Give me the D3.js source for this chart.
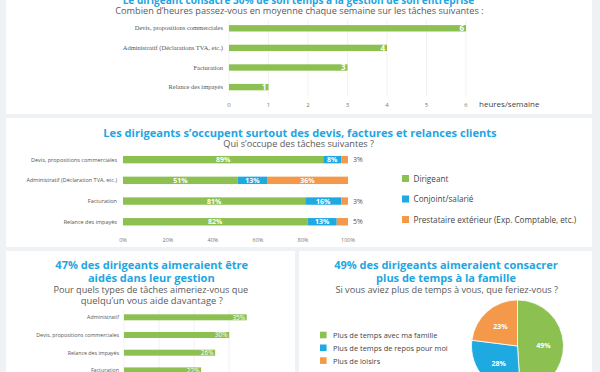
<!DOCTYPE html>
<meta charset="utf-8">
<style>
    body { margin: 0; background: #eef2f5; }
    svg { display: block; font-family: "Open Sans", sans-serif; }
    .title { fill: #1ea6e2; font-weight: bold; text-anchor: middle; }
    .sub { fill: #5a5a5a; text-anchor: middle; }
    .cat { fill: #555; font-size: 6px; text-anchor: end; }
    .tick { fill: #777; font-size: 6px; text-anchor: middle; }
    .val { fill: #fff; font-weight: bold; }
    .grid { stroke: #ececec; stroke-width: 0.7; }
    .leg { fill: #444; }
</style>
<svg width="600" height="372"></svg>
<script src="https://cdn.jsdelivr.net/npm/d3@7"></script>
<script>

    // chart 1 : heures par semaine
    var hoursCats = ["Devis, propositions commerciales", "Administratif (Déclarations TVA, etc.)", "Facturation", "Relance des impayés"];
    var hoursVals = [6, 4, 3, 1];
    var hoursTicks = [0, 1, 2, 3, 4, 5, 6];

    // chart 2 : qui s'occupe des tâches
    var whoCats = ["Devis, propositions commerciales", "Administratif (Déclaration TVA, etc.)", "Facturation", "Relance des impayés"];
    var whoSeries = ["Dirigeant", "Conjoint/salarié", "Prestataire extérieur (Exp. Comptable, etc.)"];
    var whoDirigeant = [89, 51, 81, 82];
    var whoConjoint = [8, 13, 16, 13];
    var whoPresta = [3, 36, 3, 5];
    var whoTicks = [0, 20, 40, 60, 80, 100];

    // chart 3 : aide souhaitée
    var helpCats = ["Administratif", "Devis, propositions commerciales", "Relance des impayés", "Facturation"];
    var helpVals = [35, 30, 26, 22];

    // chart 4 : plus de temps
    var timeCats = ["Plus de temps avec ma famille", "Plus de temps de repos pour moi", "Plus de loisirs"];
    var timeVals = [49, 28, 23];

    var green = "#8cc152", blue = "#1fa9e1", orange = "#f4984a";
    var color = d3.scaleOrdinal([0, 1, 2], [green, blue, orange]);

    var svg = d3.select("svg");

    // panels
    var panels = [[6, -10, 586, 124], [6, 118, 586, 129], [6, 251, 289, 130], [299, 251, 293, 130]];
    svg.selectAll(".panel").data(panels).enter().append("rect")
        .attr("class", "panel")
        .attr("x", function (d) { return d[0]; })
        .attr("y", function (d) { return d[1]; })
        .attr("width", function (d) { return d[2]; })
        .attr("height", function (d) { return d[3]; })
        .attr("fill", "#fff");

    // font size so that str is w pixels wide
    function sizeFor(cls, str, w) {
        var t = svg.append("text").attr("class", cls).style("font-size", "12px").text(str);
        var len = t.node().getComputedTextLength();
        t.remove();
        return 12 * w / len;
    }

    function fitText(cls, str, cx, y, w) {
        return svg.append("text").attr("class", cls).attr("x", cx).attr("y", y)
            .style("font-size", sizeFor(cls, str, w) + "px").text(str);
    }

    // ---------- chart 1
    fitText("title", "Le dirigeant consacre 30% de son temps à la gestion de son entreprise", 298.5, 3.5, 352);
    fitText("sub", "Combien d’heures passez-vous en moyenne chaque semaine sur les tâches suivantes :", 299.5, 14, 369);

    var x1 = d3.scaleLinear().domain([0, 6]).range([229, 466]);
    var y1 = d3.scalePoint().domain(hoursCats).range([18.5, 96.9]).padding(0.5);

    svg.append("g").selectAll("line").data(hoursTicks).enter().append("line")
        .attr("class", "grid")
        .attr("x1", x1).attr("x2", x1)
        .attr("y1", 20).attr("y2", 96);

    svg.append("g").selectAll("text").data(hoursTicks).enter().append("text")
        .attr("class", "tick")
        .attr("x", x1).attr("y", 106.5)
        .text(function (d) { return d; });

    svg.append("text").attr("x", 479).attr("y", 107)
        .style("font-size", "8px").style("fill", "#444")
        .text("heures/semaine");

    var g1 = svg.append("g").selectAll("g").data(hoursCats).enter().append("g");
    g1.append("rect")
        .attr("x", x1(0))
        .attr("y", function (d) { return y1(d) - 3.2; })
        .attr("width", function (d, i) { return x1(hoursVals[i]) - x1(0); })
        .attr("height", 6.4)
        .attr("fill", green);
    g1.append("text")
        .attr("class", "cat")
        .style("font-family", "'Liberation Serif', serif")
        .style("font-size", "6.5px")
        .attr("x", 223).attr("y", function (d) { return y1(d) + 2; })
        .text(function (d) { return d; });
    g1.append("text")
        .attr("class", "val")
        .style("font-size", "8px").style("text-anchor", "end")
        .attr("x", function (d, i) { return x1(hoursVals[i]) - 2; })
        .attr("y", function (d) { return y1(d) + 2.8; })
        .text(function (d, i) { return hoursVals[i]; });

    // ---------- chart 2
    fitText("title", "Les dirigeants s’occupent surtout des devis, factures et relances clients", 300, 136.7, 394);
    fitText("sub", "Qui s’occupe des tâches suivantes ?", 298.7, 146.7, 151);

    var x2 = d3.scaleLinear().domain([0, 100]).range([123, 348]);
    var y2 = d3.scalePoint().domain(whoCats).range([149.3, 232.1]).padding(0.5);
    var whoRows = whoCats.map(function (c, i) {
        return { cat: c, vals: [whoDirigeant[i], whoConjoint[i], whoPresta[i]] };
    });
    var stack = d3.stack().keys([0, 1, 2]).value(function (d, k) { return d.vals[k]; });
    var layers = stack(whoRows);

    svg.append("g").selectAll("text").data(whoTicks).enter().append("text")
        .attr("class", "tick")
        .style("font-size", "5.5px")
        .attr("x", x2).attr("y", 242)
        .text(function (d) { return d + "%"; });

    svg.append("g").selectAll("text").data(whoCats).enter().append("text")
        .attr("class", "cat")
        .style("font-size", "5.5px")
        .attr("x", 117).attr("y", function (d) { return y2(d) + 2; })
        .text(function (d) { return d; });

    var lay = svg.append("g").selectAll("g").data(layers).enter().append("g")
        .attr("fill", function (d) { return color(d.key); });
    lay.selectAll("rect").data(function (d) { return d; }).enter().append("rect")
        .attr("x", function (d) { return x2(d[0]); })
        .attr("y", function (d) { return y2(d.data.cat) - 3.7; })
        .attr("width", function (d) { return x2(d[1]) - x2(d[0]); })
        .attr("height", 7.4);
    lay.selectAll("text").data(function (d) { return d; }).enter().append("text")
        .attr("class", "val")
        .style("font-size", "7px")
        .attr("text-anchor", "middle")
        .attr("x", function (d) {
            return (d[1] - d[0]) < 6 ? x2(100) + 10 : (x2(d[0]) + x2(d[1])) / 2;
        })
        .attr("y", function (d) { return y2(d.data.cat) + 2.5; })
        .style("fill", function (d) { return (d[1] - d[0]) < 6 ? "#555" : "#fff"; })
        .style("font-weight", function (d) { return (d[1] - d[0]) < 6 ? "normal" : "bold"; })
        .text(function (d) { return (d[1] - d[0]) + "%"; });

    var leg2Size = sizeFor("leg", whoSeries[2], 163);
    var leg2 = svg.append("g").selectAll("g").data(whoSeries).enter().append("g")
        .attr("transform", function (d, i) { return "translate(402," + (178.5 + i * 20.5) + ")"; });
    leg2.append("rect").attr("x", 0).attr("y", -3.5).attr("width", 7).attr("height", 7)
        .attr("fill", function (d, i) { return color(i); });
    leg2.append("text").attr("class", "leg").attr("x", 11.5).attr("y", 3.3)
        .style("font-size", leg2Size + "px")
        .text(function (d) { return d; });

    // ---------- chart 3
    fitText("title", "47% des dirigeants aimeraient être", 151.7, 269, 193);
    fitText("title", "aidés dans leur gestion", 151.3, 281.7, 127);
    fitText("sub", "Pour quels types de tâches aimeriez-vous que", 150.8, 293.3, 195);
    fitText("sub", "quelqu’un vous aide davantage ?", 151.8, 304.3, 142);

    var x3 = d3.scaleLinear().domain([0, 35]).range([124, 246.7]);
    var y3 = d3.scalePoint().domain(helpCats).range([308.45, 379.25]).padding(0.5);

    svg.append("g").selectAll("line").data(x3.ticks(3)).enter().append("line")
        .attr("class", "grid")
        .attr("x1", x3).attr("x2", x3)
        .attr("y1", 310).attr("y2", 372);

    var g3 = svg.append("g").selectAll("g").data(helpCats).enter().append("g");
    g3.append("rect")
        .attr("x", x3(0))
        .attr("y", function (d) { return y3(d) - 3; })
        .attr("width", function (d, i) { return x3(helpVals[i]) - x3(0); })
        .attr("height", 6)
        .attr("fill", green);
    g3.append("text")
        .attr("class", "cat")
        .style("font-size", "5.3px")
        .attr("x", 119).attr("y", function (d) { return y3(d) + 1.8; })
        .text(function (d) { return d; });
    g3.append("text")
        .attr("class", "val")
        .style("font-size", "6.5px").style("font-weight", "normal").style("text-anchor", "end")
        .attr("x", function (d, i) { return x3(helpVals[i]) - 1.5; })
        .attr("y", function (d) { return y3(d) + 2.3; })
        .text(function (d, i) { return helpVals[i] + "%"; });

    // ---------- chart 4
    fitText("title", "49% des dirigeants aimeraient consacrer", 446, 269, 224);
    fitText("title", "plus de temps à la famille", 446, 281.7, 140);
    fitText("sub", "Si vous aviez plus de temps à vous, que feriez-vous ?", 446.7, 293, 223);

    var pie = d3.pie().sort(null).value(function (d) { return d; });
    var arc = d3.arc().innerRadius(0).outerRadius(46);
    var labelArc = d3.arc().innerRadius(26).outerRadius(26);

    var pg = svg.append("g").attr("transform", "translate(517.5,346)");
    var slices = pg.selectAll(".arc").data(pie(timeVals)).enter().append("g").attr("class", "arc");
    slices.append("path")
        .attr("d", arc)
        .attr("fill", function (d, i) { return color(i); })
        .attr("stroke", "#fff")
        .attr("stroke-width", 0.8);
    slices.append("text")
        .attr("class", "val")
        .attr("transform", function (d) { return "translate(" + labelArc.centroid(d) + ")"; })
        .attr("dy", "0.35em")
        .attr("text-anchor", "middle")
        .style("font-size", "7px")
        .text(function (d) { return d.data + "%"; });

    var leg4Size = sizeFor("leg", timeCats[1], 115);
    var leg4 = svg.append("g").selectAll("g").data(timeCats).enter().append("g")
        .attr("transform", function (d, i) { return "translate(320," + (335 + i * 12.8) + ")"; });
    leg4.append("rect").attr("x", 0).attr("y", -3.3).attr("width", 6.6).attr("height", 6.6)
        .attr("fill", function (d, i) { return color(i); });
    leg4.append("text").attr("class", "leg").attr("x", 13).attr("y", 3.2)
        .style("font-size", leg4Size + "px")
        .text(function (d) { return d; });
</script>
